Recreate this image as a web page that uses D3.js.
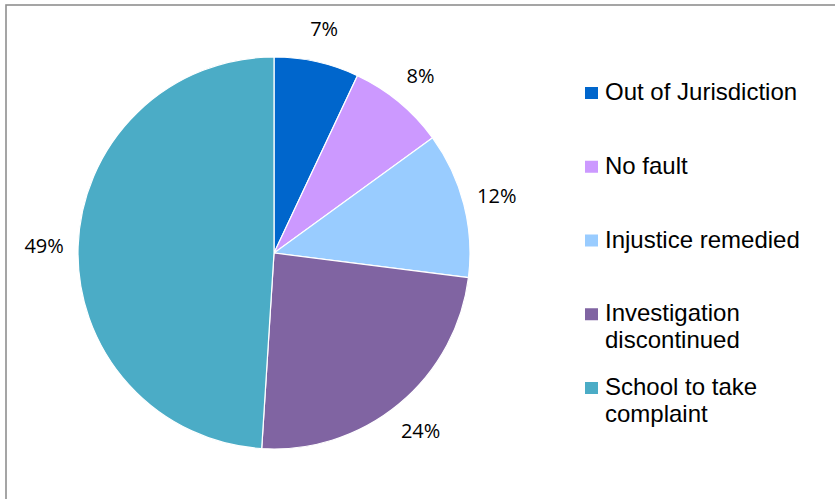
<!DOCTYPE html>
<html>
<head>
<meta charset="utf-8">
<script src="https://cdn.jsdelivr.net/npm/d3@7/dist/d3.min.js"></script>
<style>
  html, body { margin: 0; padding: 0; background: #fff; }
  svg { display: block; }
</style>
</head>
<body>
<svg id="chart" width="835" height="499"></svg>
<script>
// ---- data ----
const categories = ["Out of Jurisdiction", "No fault", "Injustice remedied", "Investigation discontinued", "School to take complaint"];
const legendLines = [["Out of Jurisdiction"], ["No fault"], ["Injustice remedied"], ["Investigation", "discontinued"], ["School to take", "complaint"]];
const values = [7, 8, 12, 24, 49];
const colors = ["#0066CC", "#CC99FF", "#99CCFF", "#8064A2", "#4BACC6"];

// ---- layout ----
const svg = d3.select("#chart");
const W = 835, H = 499;
const cx = 274, cy = 253, R = 196, labelR = 230;

// frame
svg.append("rect")
  .attr("x", 6).attr("y", 5)
  .attr("width", W + 10).attr("height", H + 10)
  .attr("fill", "none")
  .attr("stroke", "#8f8f8f")
  .attr("stroke-width", 1.6);

const data = categories.map((c, i) => ({ cat: c, value: values[i], color: colors[i], lines: legendLines[i] }));

const pie = d3.pie().value(d => d.value).sort(null);
const arcs = pie(data);
const arc = d3.arc().innerRadius(0).outerRadius(R);

const g = svg.append("g").attr("transform", `translate(${cx},${cy})`);
g.selectAll("path.slice")
  .data(arcs)
  .enter().append("path")
  .attr("class", "slice")
  .attr("d", arc)
  .attr("fill", d => d.data.color)
  .attr("stroke", "#ffffff")
  .attr("stroke-width", 1.2);

// labels outside the slice centres
const labelArc = d3.arc().innerRadius(labelR).outerRadius(labelR);
g.selectAll("text.lbl")
  .data(arcs)
  .enter().append("text")
  .attr("class", "lbl")
  .attr("transform", d => `translate(${labelArc.centroid(d)})`)
  .attr("text-anchor", "middle")
  .attr("dominant-baseline", "central")
  .attr("font-family", "'Open Sans', 'Liberation Sans', sans-serif")
  .attr("font-size", 20)
  .attr("fill", "#000")
  .text(d => d3.format(".0%")(d.value / d3.sum(values)));

// legend
const legendX = 585, legendY0 = 100, legendStep = 73.75, lineH = 27;
const leg = svg.append("g");
data.forEach((d, i) => {
  const by = legendY0 + i * legendStep;
  leg.append("rect")
    .attr("x", legendX).attr("y", by - 13)
    .attr("width", 13).attr("height", 12)
    .attr("fill", d.color);
  const t = leg.append("text")
    .attr("x", legendX + 20).attr("y", by)
    .attr("font-family", "'Liberation Sans', Arial, sans-serif")
    .attr("font-size", 24)
    .attr("fill", "#000");
  d.lines.forEach((ln, j) => {
    t.append("tspan").attr("x", legendX + 20).attr("y", by + j * lineH).text(ln);
  });
});
</script>
</body>
</html>
